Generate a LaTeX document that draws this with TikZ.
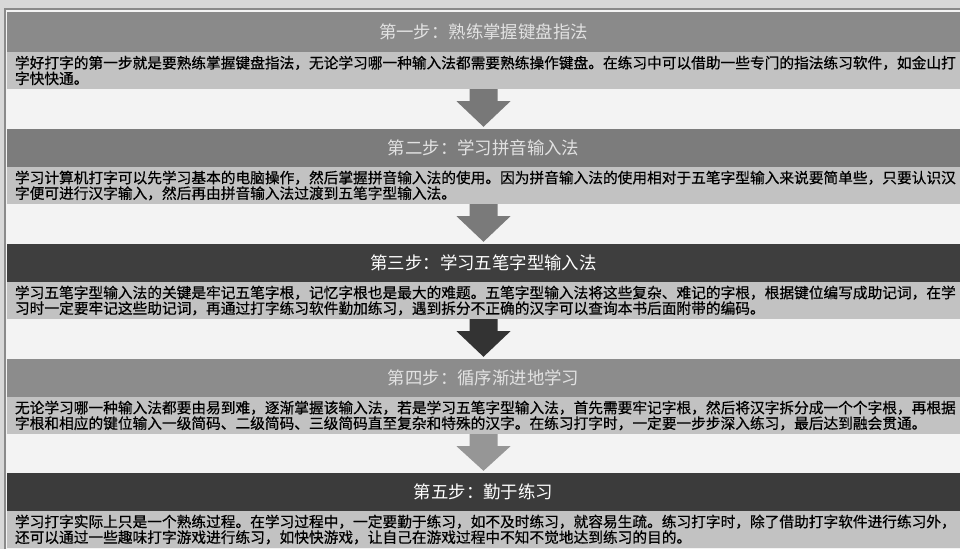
\documentclass[tikz,border=0pt]{standalone}
\usepackage{fontspec}
\newfontfamily\cjk{Noto Sans CJK SC}
\newfontfamily\cjkb[FakeBold=0.6]{Noto Sans CJK SC}
\usetikzlibrary{calc}
\definecolor{outerbg}{HTML}{D8D8D8}
\definecolor{innerbg}{HTML}{F3F3F3}
\definecolor{framec}{HTML}{8A8A8A}
\definecolor{bodyc}{HTML}{C2C2C2}
\definecolor{hdrA}{HTML}{8A8A8A}
\definecolor{hdrB}{HTML}{7C7C7C}
\definecolor{hdrC}{HTML}{3E3E3E}
\definecolor{hdrD}{HTML}{8C8C8C}
\definecolor{hdrE}{HTML}{3B3B3B}
\definecolor{arrA}{HTML}{787878}
\definecolor{arrB}{HTML}{7A7A7A}
\definecolor{arrC}{HTML}{333333}
\definecolor{arrD}{HTML}{969696}
\definecolor{titlec}{HTML}{E2E2E2}
\newcommand\stepdown[3]{%
  \fill[#3] ($(#1.south)+(-14,0)$) -- ($(#1.south)+(14,0)$) -- ($(#1.south)+(14,12)$)
   -- ($(#1.south)+(27,12)$) -- ($(#2.north)+(0,-2)$) -- ($(#1.south)+(-27,12)$)
   -- ($(#1.south)+(-14,12)$) -- cycle;}
\tikzset{
  hdr/.style={minimum width=953pt, inner sep=0pt, text=titlec,
    font=\cjk\fontsize{17.4pt}{18pt}\selectfont},
  bodyband/.style={fill=bodyc, minimum width=953pt, minimum height=37pt,
    inner xsep=8pt, inner ysep=0pt, text width=937pt, align=left, text=black,
    font=\cjkb\fontsize{14.7pt}{15.6pt}\selectfont},
}
\begin{document}
\begin{tikzpicture}[x=1pt,y=-1pt]
\useasboundingbox (0,0) rectangle (960,549);
\fill[outerbg] (0,0) rectangle (960,549);
\fill[innerbg] (5,9) rectangle (960,549);
\draw[framec, line width=1.2pt] (5,549) -- (5,9) -- (960,9);

\node[hdr, fill=hdrA, minimum height=40pt] (h1) at (483.5,32) {第一步：熟练掌握键盘指法};
\node[bodyband] (b1) at (483.5,70.5) {学好打字的第一步就是要熟练掌握键盘指法，无论学习哪一种输入法都需要熟练操作键盘。在练习中可以借助一些专门的指法练习软件，如金山打\\字快快通。};

\node[hdr, fill=hdrB, minimum height=38pt] (h2) at (483.5,148) {第二步：学习拼音输入法};
\node[bodyband] (b2) at (483.5,185.5) {学习计算机打字可以先学习基本的电脑操作，然后掌握拼音输入法的使用。因为拼音输入法的使用相对于五笔字型输入来说要简单些，只要认识汉\\字便可进行汉字输入，然后再由拼音输入法过渡到五笔字型输入法。};

\node[hdr, fill=hdrC, minimum height=38pt, text=white] (h3) at (483.5,263) {第三步：学习五笔字型输入法};
\node[bodyband] (b3) at (483.5,300.5) {学习五笔字型输入法的关键是牢记五笔字根，记忆字根也是最大的难题。五笔字型输入法将这些复杂、难记的字根，根据键位编写成助记词，在学\\习时一定要牢记这些助记词，再通过打字练习软件勤加练习，遇到拆分不正确的汉字可以查询本书后面附带的编码。};

\node[hdr, fill=hdrD, minimum height=38pt] (h4) at (483.5,378) {第四步：循序渐进地学习};
\node[bodyband] (b4) at (483.5,415.5) {无论学习哪一种输入法都要由易到难，逐渐掌握该输入法，若是学习五笔字型输入法，首先需要牢记字根，然后将汉字拆分成一个个字根，再根据\\字根和相应的键位输入一级简码、二级简码、三级简码直至复杂和特殊的汉字。在练习打字时，一定要一步步深入练习，最后达到融会贯通。};

\node[hdr, fill=hdrE, minimum height=38pt, text=white] (h5) at (483.5,492) {第五步：勤于练习};
\node[bodyband] (b5) at (483.5,529.5) {学习打字实际上只是一个熟练过程。在学习过程中，一定要勤于练习，如不及时练习，就容易生疏。练习打字时，除了借助打字软件进行练习外，\\还可以通过一些趣味打字游戏进行练习，如快快游戏，让自己在游戏过程中不知不觉地达到练习的目的。};

\stepdown{b1}{h2}{arrA}
\stepdown{b2}{h3}{arrB}
\stepdown{b3}{h4}{arrC}
\stepdown{b4}{h5}{arrD}
\end{tikzpicture}
\end{document}
